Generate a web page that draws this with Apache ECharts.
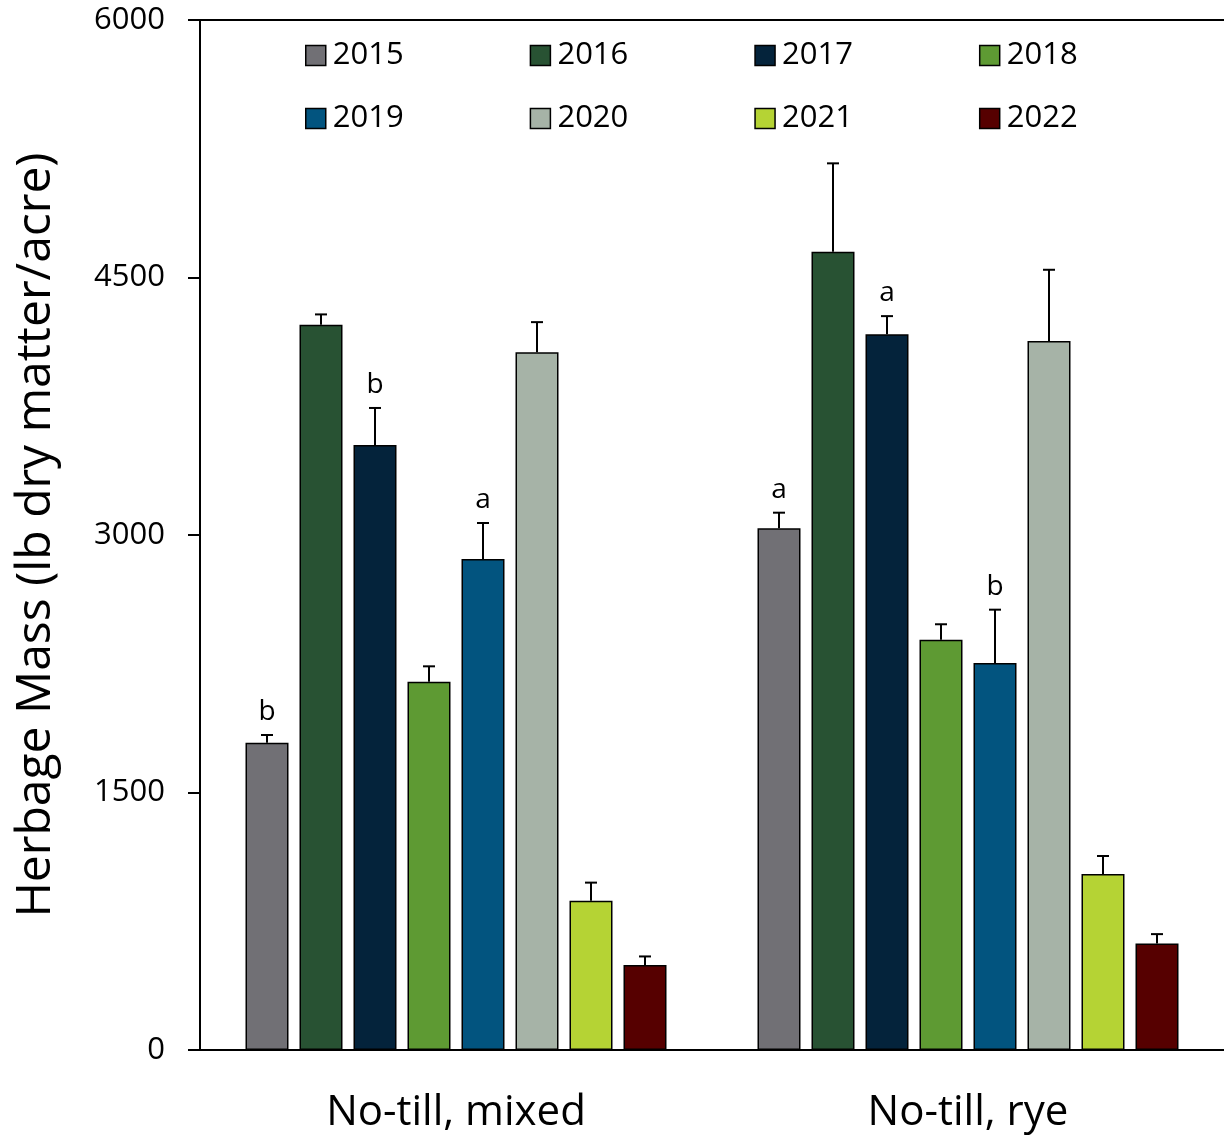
<!DOCTYPE html>
<html>
<head>
<meta charset="utf-8">
<script src="https://cdn.jsdelivr.net/npm/echarts@6/dist/echarts.min.js"></script>
<style>
  html, body { margin: 0; padding: 0; background: #fff; }
  #chart { width: 1224px; height: 1136px; }
</style>
</head>
<body>
<div id="chart"></div>
<script>
// Herbage mass by year for two no-till systems
const categories = ['No-till, mixed', 'No-till, rye'];
const years = ['2015', '2016', '2017', '2018', '2019', '2020', '2021', '2022'];
const colors = ['#717075', '#285233', '#04233b', '#5e9a33', '#02547f', '#a6b3a7', '#b5d334', '#560000'];

// Mean herbage mass, [mixed, rye]
const y2015 = [1790, 3040];
const y2016 = [4225, 4650];
const y2017 = [3525, 4170];
const y2018 = [2145, 2390];
const y2019 = [2860, 2255];
const y2020 = [4065, 4130];
const y2021 = [870, 1025];
const y2022 = [495, 620];

// Upper end of the error bars, [mixed, rye]
const e2015 = [1835, 3130];
const e2016 = [4285, 5165];
const e2017 = [3740, 4275];
const e2018 = [2235, 2480];
const e2019 = [3070, 2565];
const e2020 = [4240, 4545];
const e2021 = [975, 1130];
const e2022 = [545, 675];

// Mean separation letters (empty where none is shown)
const l2015 = ['b', 'a'];
const l2017 = ['b', 'a'];
const l2019 = ['a', 'b'];

const means = [y2015, y2016, y2017, y2018, y2019, y2020, y2021, y2022];
const errTops = [e2015, e2016, e2017, e2018, e2019, e2020, e2021, e2022];
const letters = [l2015, null, l2017, null, l2019, null, null, null];

const yTicks = { min: 0, max: 6000, interval: 1500 };

const FONT = '"Open Sans", "Noto Sans", sans-serif';
const BAR_W = 43;
const GAP_PX = 11;
const STEP = BAR_W + GAP_PX;

const chart = echarts.init(document.getElementById('chart'), null, { renderer: 'canvas' });

const series = [];
years.forEach((yr, i) => {
  series.push({
    name: yr,
    type: 'bar',
    data: means[i],
    barWidth: BAR_W,
    barGap: (GAP_PX / BAR_W * 100) + '%',
    itemStyle: { color: colors[i], borderColor: '#000', borderWidth: 1.5 },
    z: 2
  });
});

// Error bars and letters drawn with the axis scales
years.forEach((yr, i) => {
  const data = categories.map((c, k) => [k, means[i][k], errTops[i][k]]);
  series.push({
    type: 'custom',
    name: 'err' + yr,
    data: data,
    z: 3,
    silent: true,
    renderItem: function (params, api) {
      const k = api.value(0);
      const base = api.coord([k, api.value(1)]);
      const top = api.coord([k, api.value(2)]);
      const x = base[0] + (i - 3.5) * STEP;
      const children = [
        { type: 'line', shape: { x1: x, y1: base[1], x2: x, y2: top[1] }, style: { stroke: '#000', lineWidth: 2 } },
        { type: 'line', shape: { x1: x - 6, y1: top[1], x2: x + 6, y2: top[1] }, style: { stroke: '#000', lineWidth: 2 } }
      ];
      const lt = letters[i] ? letters[i][k] : '';
      if (lt) {
        children.push({
          type: 'text',
          style: { text: lt, x: x, y: top[1] - 9, align: 'center', verticalAlign: 'bottom', font: '28px ' + FONT, fill: '#000' }
        });
      }
      return { type: 'group', children: children };
    }
  });
});

const legendCommon = {
  itemWidth: 20,
  itemHeight: 20,
  itemGap: 126,
  icon: 'rect',
  itemStyle: { borderColor: '#000', borderWidth: 1.5 },
  textStyle: { fontSize: 31, color: '#000', fontFamily: FONT, padding: [0, 0, 0, 2] },
  selectedMode: false
};

chart.setOption({
  backgroundColor: '#fff',
  animation: false,
  grid: { left: 200, width: 1029, top: 20, bottom: 86, containLabel: false },
  legend: [
    Object.assign({ data: years.slice(0, 4), left: 300, top: 35 }, legendCommon),
    Object.assign({ data: years.slice(4), left: 300, top: 98 }, legendCommon)
  ],
  xAxis: [
    {
      type: 'category',
      data: categories,
      axisLine: { lineStyle: { color: '#000', width: 2 } },
      axisTick: { show: false },
      axisLabel: { fontSize: 42, color: '#000', fontFamily: FONT, margin: 42 }
    },
    {
      type: 'category',
      position: 'top',
      data: categories,
      axisLine: { lineStyle: { color: '#000', width: 2 } },
      axisTick: { show: false },
      axisLabel: { show: false }
    }
  ],
  yAxis: {
    type: 'value',
    min: yTicks.min,
    max: yTicks.max,
    interval: yTicks.interval,
    name: 'Herbage Mass (lb dry matter/acre)',
    nameLocation: 'middle',
    nameGap: 140,
    nameTextStyle: { fontSize: 48, color: '#000', fontFamily: FONT },
    axisLine: { show: true, lineStyle: { color: '#000', width: 2 } },
    axisTick: { show: true, length: 12, lineStyle: { color: '#000', width: 2 } },
    axisLabel: { fontSize: 31, color: '#000', fontFamily: FONT, margin: 35, formatter: v => String(v) },
    splitLine: { show: false }
  },
  series: series
});
</script>
</body>
</html>
